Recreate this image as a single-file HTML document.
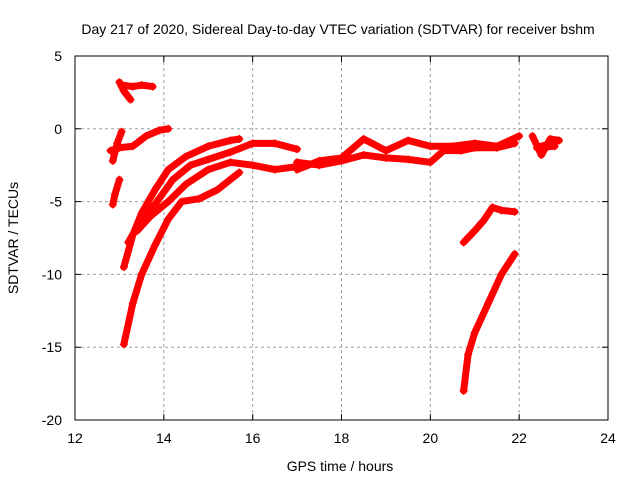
<!DOCTYPE html>
<html><head><meta charset="utf-8"><style>
body{margin:0;background:#fff;font-family:"Liberation Sans",sans-serif}
svg text{font-family:"Liberation Sans",sans-serif;font-size:14px;fill:#000}
</style></head><body>
<svg id="chart" width="640" height="480" viewBox="0 0 640 480">
<rect width="640" height="480" fill="#fff"/>
<text x="338" y="34" text-anchor="middle">Day 217 of 2020, Sidereal Day-to-day VTEC variation (SDTVAR) for receiver bshm</text>
<g id="grid"></g>
<g id="marks"></g>
<rect x="75" y="56" width="533" height="364" fill="none" stroke="#000" stroke-width="1"/>
<g id="ticks"></g>
<text x="340" y="471" text-anchor="middle">GPS time / hours</text>
<text transform="translate(18,238) rotate(-90)" text-anchor="middle">SDTVAR / TECUs</text>
</svg>
<script>
const xTicks=[12,14,16,18,20,22,24];
const yTicks=[5,0,-5,-10,-15,-20];
const seriesHook1=[[13.0,3.2],[13.1,2.6],[13.25,2.0]];
const seriesHook2=[[13.05,3.0],[13.3,2.9],[13.5,3.0],[13.75,2.9]];
const seriesUpper=[[12.8,-1.5],[13.0,-1.3],[13.3,-1.2],[13.6,-0.5],[13.9,-0.1],[14.1,0.0]];
const seriesUpperStub=[[12.85,-2.2],[12.95,-1.0],[13.05,-0.2]];
const seriesSmall=[[12.85,-5.2],[12.9,-4.5],[13.0,-3.5]];
const seriesA=[[13.1,-9.5],[13.3,-7.3],[13.5,-5.8],[13.8,-4.2],[14.1,-2.8],[14.5,-1.9],[15,-1.2],[15.5,-0.8],[15.7,-0.7]];
const seriesC=[[13.2,-7.8],[13.5,-6.2],[13.8,-5.2],[14.2,-3.5],[14.6,-2.5],[15,-2.1],[15.5,-1.6],[16,-1],[16.5,-1],[17,-1.4]];
const seriesD=[[13.4,-7.0],[13.7,-6.0],[14.1,-5.0],[14.5,-3.8],[15,-2.8],[15.5,-2.3],[16,-2.5],[16.5,-2.8],[17,-2.6]];
const seriesB=[[13.1,-14.8],[13.3,-12],[13.5,-10],[13.8,-8],[14.1,-6.2],[14.4,-5],[14.8,-4.8],[15.2,-4.2],[15.7,-3.0]];
const seriesE=[[17,-2.8],[17.5,-2.2],[18,-2.0],[18.5,-0.7],[19,-1.5],[19.5,-0.8],[20,-1.2],[20.5,-1.2],[21,-1.0],[21.5,-1.2],[22,-0.5]];
const seriesF=[[17,-2.3],[17.5,-2.5],[18,-2.2],[18.5,-1.8],[19,-2.0],[19.5,-2.1],[20,-2.3],[20.3,-1.5],[20.7,-1.5],[21,-1.3],[21.5,-1.3],[21.9,-1.0]];
const seriesG=[[22.3,-0.5],[22.5,-1.8],[22.7,-0.7],[22.9,-0.8],[22.4,-1.3],[22.8,-1.2]];
const seriesH=[[20.75,-7.8],[21,-7.0],[21.2,-6.3],[21.4,-5.4],[21.6,-5.6],[21.9,-5.7]];
const seriesI=[[20.75,-18],[20.85,-15.5],[21,-14],[21.3,-12],[21.6,-10],[21.9,-8.6]];
const allSeries=[seriesHook1,seriesHook2,seriesUpper,seriesUpperStub,seriesSmall,seriesA,seriesC,seriesD,seriesB,seriesE,seriesF,seriesG,seriesH,seriesI];
const NS="http://www.w3.org/2000/svg";
function xs(h){return 75+(h-12)*(533/12);}
function ys(v){return 56+(5-v)*(364/25);}
const grid=document.getElementById('grid'),ticks=document.getElementById('ticks'),marks=document.getElementById('marks');
function mk(tag,attrs,parent){const e=document.createElementNS(NS,tag);for(const k in attrs)e.setAttribute(k,attrs[k]);parent.appendChild(e);return e;}
xTicks.forEach(t=>{const x=xs(t);
 if(t>12&&t<24){const g=mk('line',{x1:x,x2:x,y1:56,y2:420,stroke:'#a0a0a0','stroke-dasharray':'3,3'},grid);
 
 }
 mk('line',{x1:x,x2:x,y1:420,y2:414,stroke:'#000'},ticks);mk('line',{x1:x,x2:x,y1:56,y2:62,stroke:'#000'},ticks);
 const l=mk('text',{x:x,y:443,'text-anchor':'middle'},ticks);l.textContent=t;
 
 });
yTicks.forEach(t=>{const y=ys(t);
 if(t<5&&t>-20){const g=mk('line',{x1:75,x2:608,y1:y,y2:y,stroke:'#a0a0a0','stroke-dasharray':'3,3'},grid);
 
 }
 mk('line',{x1:75,x2:81,y1:y,y2:y,stroke:'#000'},ticks);mk('line',{x1:608,x2:602,y1:y,y2:y,stroke:'#000'},ticks);
 const l=mk('text',{x:62,y:y+5,'text-anchor':'end'},ticks);l.textContent=t;
 
 });
allSeries.forEach((s,i)=>{
 const p=mk('polyline',{points:s.map(d=>xs(d[0])+','+ys(d[1])).join(' '),fill:'none',stroke:'#ff0000','stroke-width':7,'stroke-linejoin':'round','stroke-linecap':'round'},marks);
 
 
 s.forEach(d=>{const x=xs(d[0]),y=ys(d[1]);
  const m=mk('path',{d:`M${x-4},${y}H${x+4}M${x},${y-4}V${y+4}`,stroke:'#ff0000','stroke-width':1.2},marks);
  
  });
});
</script>
</body></html>
